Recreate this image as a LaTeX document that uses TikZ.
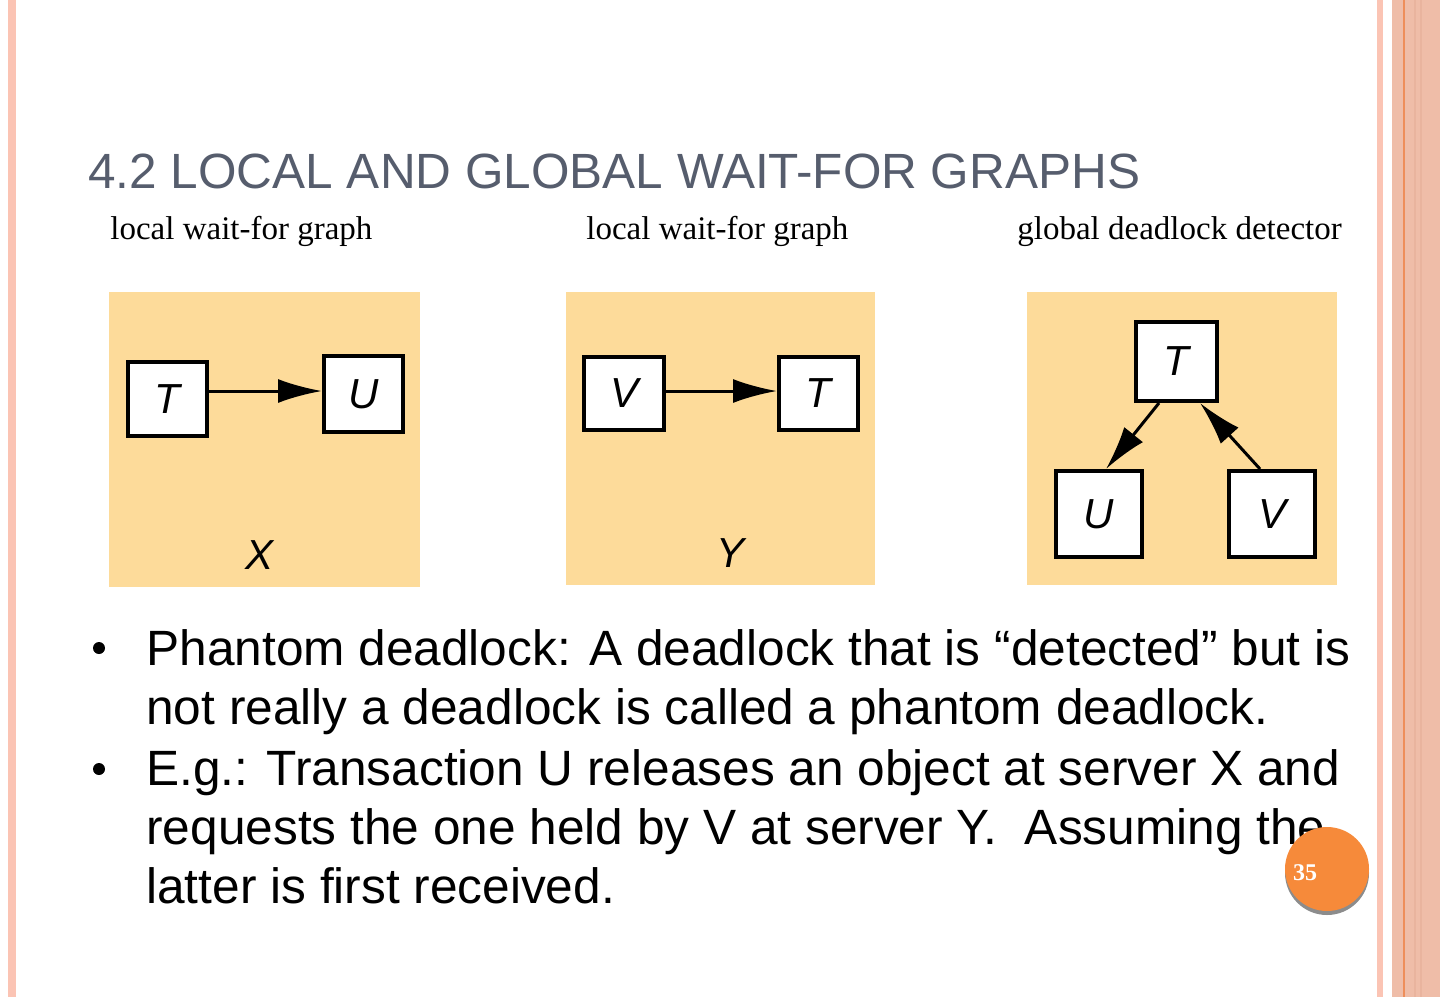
\documentclass[tikz,border=0pt]{standalone}
\usepackage{fontspec}
\setmainfont{Liberation Sans}
\newfontfamily\seriffont{Liberation Serif}
\usetikzlibrary{arrows.meta}
\definecolor{panel}{RGB}{253,219,154}
\definecolor{titlegray}{RGB}{86,93,109}
\definecolor{stripe}{RGB}{251,196,180}
\definecolor{salmon}{RGB}{239,189,168}
\definecolor{salmondark}{RGB}{233,180,158}
\definecolor{orangeline}{RGB}{238,142,90}
\definecolor{pagecirc}{RGB}{246,138,58}
\definecolor{shadowgray}{RGB}{140,140,140}
\begin{document}
\begin{tikzpicture}[x=0.5pt,y=-0.5pt,
  panelbg/.style={fill=panel},
  wbox/.style={draw=black,fill=white,line width=2pt,inner sep=0pt,
    font=\fontsize{21}{21}\selectfont\itshape},
  warrow/.style={line width=1.5pt,-{Latex[length=22pt,width=12pt]}},
  subtitle/.style={anchor=base west,inner sep=0pt,font=\seriffont\fontsize{16.5}{16.5}\selectfont},
  bodyline/.style={anchor=base west,inner sep=0pt,font=\fontsize{24.8}{24.8}\selectfont},
  bulletdot/.style={circle,fill=black,inner sep=0pt,minimum size=6pt},
  srvlabel/.style={inner sep=0pt,font=\fontsize{21}{21}\selectfont\itshape}
]
\useasboundingbox (0,0) rectangle (1440,997);
\fill[white] (0,0) rectangle (1440,997);
% side decorations
\fill[stripe] (8,0) rectangle (16,997);
\fill[stripe] (1377,0) rectangle (1383,997);
\fill[salmon] (1392,0) rectangle (1440,997);
\fill[orangeline] (1402.5,0) rectangle (1405,997);
\fill[salmondark] (1414,0) rectangle (1416,997);
\fill[salmondark] (1420,0) rectangle (1422,997);
% title
\node[anchor=base west,inner sep=0pt,text=titlegray,font=\fontsize{24.75}{24.75}\selectfont] (title) at (88,188) {4.2 LOCAL AND GLOBAL WAIT-FOR GRAPHS};
% subtitles
\node[subtitle] (s1) at (110,239) {local wait-for graph};
\node[subtitle] (s2) at (586,239) {local wait-for graph};
\node[subtitle] (s3) at (1017,239) {global deadlock detector};
% panels
\fill[panelbg] (109,292) rectangle (420,587);
\fill[panelbg] (566,292) rectangle (875,585);
\fill[panelbg] (1027,292) rectangle (1337,585);
% panel X
\node[wbox,minimum width=39.5pt,minimum height=37pt] (T1) at (167.5,399) {T};
\node[wbox,minimum width=39.5pt,minimum height=38pt] (U1) at (363.5,394) {U};
\draw[warrow] ([yshift=4pt]T1.east) -- ([yshift=1.5pt]U1.west);
\node[srvlabel] (X) at (260,555) {X};
% panel Y
\node[wbox,minimum width=40pt,minimum height=36.5pt] (V2) at (624,393.5) {V};
\node[wbox,minimum width=39.5pt,minimum height=36.5pt] (T2) at (818.5,393.5) {T};
\draw[warrow] ([yshift=1.25pt]V2.east) -- ([yshift=1.25pt]T2.west);
\node[srvlabel] (Y) at (730,553) {Y};
% global
\node[wbox,minimum width=40.5pt,minimum height=39.5pt] (T3) at (1176.5,361.5) {T};
\node[wbox,minimum width=43pt,minimum height=43pt] (U3) at (1099,514) {U};
\node[wbox,minimum width=43pt,minimum height=43pt] (V3) at (1272,514) {V};
\draw[warrow] ([xshift=-8.75pt]T3.south) -- ([xshift=3.5pt]U3.north);
\draw[warrow] ([xshift=-6pt]V3.north) -- ([xshift=11.75pt]T3.south);
% bullets
\node[bulletdot] (b1) at (99,648) {};
\node[bulletdot] (b2) at (99,769) {};
\node[bodyline] (l1) at (146,665) {Phantom deadlock: A deadlock that is “detected” but is};
\node[bodyline] (l2) at (146,724) {not really a deadlock is called a phantom deadlock.};
\node[bodyline] (l3) at (146,785) {E.g.: Transaction U releases an object at server X and};
\node[bodyline] (l4) at (146,844) {requests the one held by V at server Y.\ \ Assuming the};
\node[bodyline] (l5) at (146,903) {latter is first received.};
% page number
\fill[shadowgray] (1327,873) circle (42);
\fill[pagecirc] (1327,869) circle (42);
\node[text=white,inner sep=0pt,font=\seriffont\bfseries\fontsize{12}{12}\selectfont] (pg) at (1305,873) {35};
\end{tikzpicture}
\end{document}
